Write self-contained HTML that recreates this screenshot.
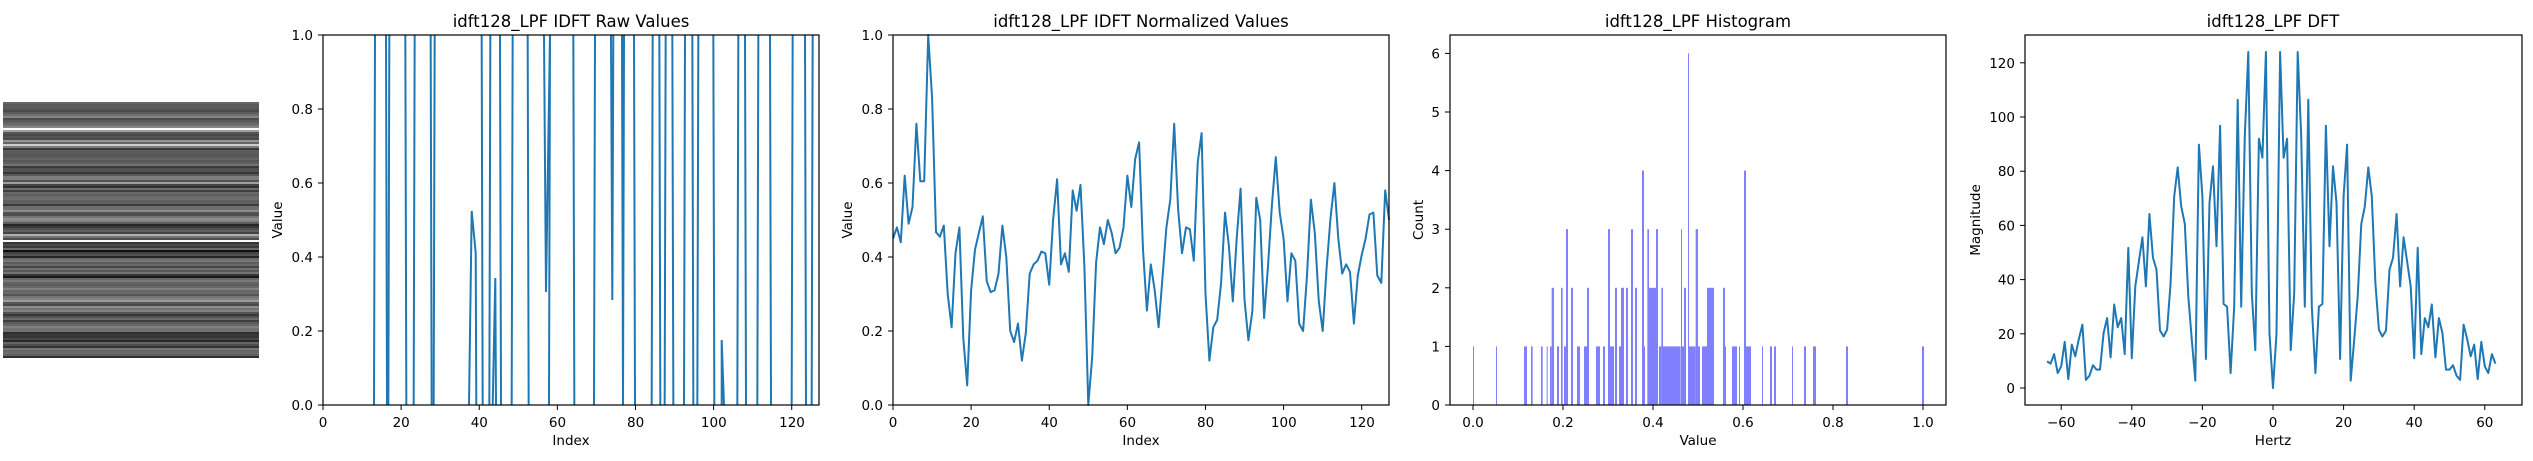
<!DOCTYPE html>
<html><head><meta charset="utf-8"><style>
html,body{margin:0;padding:0;background:#fff;}
svg{display:block;font-family:"DejaVu Sans","Liberation Sans",sans-serif;}
.t{font-size:13.5px;fill:#000}
.ti{font-size:16.5px;fill:#000}
</style></head><body>
<svg id="s" width="2533" height="461" viewBox="0 0 2533 461" xmlns="http://www.w3.org/2000/svg">
<rect width="2533" height="461" fill="#fff"/>
<g id="img"></g>
<g id="p1" fill="none" stroke="#1f77b4" stroke-width="2"></g>
<g id="p2"></g>
<g id="p3" fill="#8080ff"></g>
<g id="p4"></g>
<g id="frames" fill="none" stroke="#000" stroke-width="1.2">
<rect x="323" y="35" width="496" height="370"/>
<rect x="893" y="35" width="496" height="370"/>
<rect x="1450" y="35" width="496" height="370"/>
<rect x="2025" y="35" width="497" height="370"/>
</g>
<g id="ticks" stroke="#000" stroke-width="1"></g>
<text class="ti" x="571" y="27" text-anchor="middle">idft128_LPF IDFT Raw Values</text>
<text class="ti" x="1141" y="27" text-anchor="middle">idft128_LPF IDFT Normalized Values</text>
<text class="ti" x="1698" y="27" text-anchor="middle">idft128_LPF Histogram</text>
<text class="ti" x="2273" y="27" text-anchor="middle">idft128_LPF DFT</text>
<text class="t" x="571" y="445" text-anchor="middle">Index</text>
<text class="t" x="1141" y="445" text-anchor="middle">Index</text>
<text class="t" x="1698" y="445" text-anchor="middle">Value</text>
<text class="t" x="2273" y="445" text-anchor="middle">Hertz</text>
<text class="t" transform="translate(282,220) rotate(-90)" text-anchor="middle">Value</text>
<text class="t" transform="translate(852,220) rotate(-90)" text-anchor="middle">Value</text>
<text class="t" transform="translate(1423,220) rotate(-90)" text-anchor="middle">Count</text>
<text class="t" transform="translate(1980,220) rotate(-90)" text-anchor="middle">Magnitude</text>
<g class="t" text-anchor="middle">
<text x="323" y="427">0</text><text x="401.2" y="427">20</text><text x="479.3" y="427">40</text><text x="557.5" y="427">60</text><text x="635.6" y="427">80</text><text x="713.8" y="427">100</text><text x="792" y="427">120</text>
<text x="893" y="427">0</text><text x="971.2" y="427">20</text><text x="1049.3" y="427">40</text><text x="1127.5" y="427">60</text><text x="1205.6" y="427">80</text><text x="1283.8" y="427">100</text><text x="1362" y="427">120</text>
<text x="1473" y="427">0.0</text><text x="1563" y="427">0.2</text><text x="1653" y="427">0.4</text><text x="1743" y="427">0.6</text><text x="1833" y="427">0.8</text><text x="1923" y="427">1.0</text>
<text x="2061.2" y="427">−60</text><text x="2131.8" y="427">−40</text><text x="2202.4" y="427">−20</text><text x="2273" y="427">0</text><text x="2343.6" y="427">20</text><text x="2414.2" y="427">40</text><text x="2484.8" y="427">60</text>
</g>
<g class="t" text-anchor="end">
<text x="313" y="40">1.0</text><text x="313" y="114">0.8</text><text x="313" y="188">0.6</text><text x="313" y="262">0.4</text><text x="313" y="336">0.2</text><text x="313" y="410">0.0</text>
<text x="883" y="40">1.0</text><text x="883" y="114">0.8</text><text x="883" y="188">0.6</text><text x="883" y="262">0.4</text><text x="883" y="336">0.2</text><text x="883" y="410">0.0</text>
<text x="1440" y="410">0</text><text x="1440" y="351.4">1</text><text x="1440" y="292.8">2</text><text x="1440" y="234.2">3</text><text x="1440" y="175.6">4</text><text x="1440" y="117">5</text><text x="1440" y="58.4">6</text>
<text x="2015" y="393">0</text><text x="2015" y="338.8">20</text><text x="2015" y="284.6">40</text><text x="2015" y="230.4">60</text><text x="2015" y="176.2">80</text><text x="2015" y="122">100</text><text x="2015" y="67.8">120</text>
</g>
</svg>
<script>
var NS="http://www.w3.org/2000/svg";
function el(p,n,a){var e=document.createElementNS(NS,n);for(var k in a)e.setAttribute(k,a[k]);document.getElementById(p).appendChild(e);return e;}
var norm=[.45,.48,.44,.62,.49,.535,.76,.605,.605,1.0,.83,.467,.455,.485,.30,.21,.41,.48,.18,.053,.31,.42,.465,.51,.335,.305,.31,.355,.485,.40,.20,.17,.22,.12,.195,.355,.38,.39,.415,.41,.325,.50,.61,.38,.41,.36,.58,.525,.595,.375,0,.13,.385,.48,.435,.50,.465,.41,.425,.48,.62,.535,.665,.71,.42,.255,.38,.31,.21,.345,.48,.555,.76,.53,.41,.48,.475,.39,.655,.735,.30,.12,.21,.23,.33,.52,.43,.28,.45,.585,.285,.175,.255,.56,.50,.235,.375,.54,.67,.52,.45,.28,.41,.39,.22,.2,.35,.555,.465,.28,.2,.37,.505,.60,.45,.355,.38,.36,.22,.35,.405,.45,.515,.52,.35,.33,.58,.50];
for(var i=0;i<128;i++){var v=norm[(i*37)%128];var g=Math.round(15+v*190);if(i==13||i==69)g=250;el("img","rect",{x:3,y:102+i*2,width:256,height:2,fill:"rgb("+g+","+g+","+g+")"});}
var pts=norm.map(function(v,i){return (893+3.906*i).toFixed(1)+","+(405-370*v).toFixed(1)}).join(" ");
el("p2","polyline",{points:pts,fill:"none",stroke:"#1f77b4","stroke-width":2,"stroke-linejoin":"round"});
var T=35,B=405;
var vx=[165,198,208,256,284,332,344,485,511,540,578,623,690,760,825,906,912,942,998,1018,1037,1057,1095,1117,1135,1180,1255,1275,1315,1350,1418,1455,1478];
vx.forEach(function(z,i){var x=320+z/3;el("p1","line",{x1:x,y1:T,x2:x+(i%2?1:-1),y2:B});});
function pl(a){el("p1","polyline",{points:a.map(function(p){return (320+p[0]/3).toFixed(1)+","+p[1]}).join(" ")});}
pl([[447,B],[455,211],[467,253],[469,B]]);
pl([[518,B],[526,278],[528,B]]);
pl([[672,T],[678,292],[690,T]]);
pl([[873,T],[877,300],[880,T]]);
pl([[1205,B],[1205,340],[1212,B]]);
var bars=[[69,72,1],[138,141,1],[222,231,1],[243,248,1],[273,278,1],[290,293,1],[300,305,1],[305,312,2],[321,327,1],[333,338,2],[342,348,1],[348,354,3],[363,369,2],[381,390,1],[402,411,1],[411,417,2],[438,450,1],[459,465,1],[474,480,3],[480,492,1],[495,501,2],[507,513,1],[513,522,2],[528,534,2],[543,549,3],[555,561,2],[576,582,4],[582,585,1],[592,597,3],[597,606,2],[606,618,2],[618,624,3],[627,634,1],[634,639,2],[639,692,1],[693,696,3],[696,702,1],[702,708,2],[714,717,6],[717,737,1],[737,744,3],[744,750,1],[756,771,1],[771,777,2],[777,792,2],[819,825,2],[825,828,1],[846,861,1],[867,870,1],[882,888,4],[888,903,1],[936,939,1],[960,966,1],[972,978,1],[1026,1029,1],[1062,1068,1],[1089,1098,1],[1188,1194,1],[1416,1422,1]];
bars.forEach(function(b){var x=1450+b[0]/3,w=(b[1]-b[0])/3,h=58.6*b[2];el("p3","rect",{x:x,y:405-h,width:w,height:h});});
var neg=[9.8,9,12.5,5.5,8,17,3.3,16,11.7,18,23.4,3,4.5,8.4,6.8,6.8,20.3,25.8,11.3,30.8,22.4,25.8,12.5,51.7,11,37.5,46.7,55.6,37.5,64.2,48,43.7,21.2,19,21.5,38.7,70.7,81.4,67,60.6,33.8,17.8,2.7,89.8,70.7,10.7,68.3,81.8,52.3,96.8,31,30,5.5,30,106.4,30,93,124,35,14,92,85,124,20,0];
var d=[];for(var f=-64;f<=63;f++){var v=f<=0?neg[f+64]:neg[64-f];d.push((2273+3.53*f).toFixed(1)+","+(388-2.71*v).toFixed(1));}
el("p4","polyline",{points:d.join(" "),fill:"none",stroke:"#1f77b4","stroke-width":2,"stroke-linejoin":"round"});
function tx(x){el("ticks","line",{x1:x,y1:405,x2:x,y2:410});}
function ty(l,y){el("ticks","line",{x1:l,y1:y,x2:l-5,y2:y});}
[0,20,40,60,80,100,120].forEach(function(v){tx(323+3.906*v);tx(893+3.906*v);});
[0,.2,.4,.6,.8,1].forEach(function(v){ty(323,405-370*v);ty(893,405-370*v);});
[0,.2,.4,.6,.8,1].forEach(function(v){tx(1473+450*v);});
for(var c=0;c<=6;c++)ty(1450,405-58.6*c);
[-60,-40,-20,0,20,40,60].forEach(function(v){tx(2273+3.53*v);});
[0,20,40,60,80,100,120].forEach(function(v){ty(2025,388-2.71*v);});
</script>
</body></html>
